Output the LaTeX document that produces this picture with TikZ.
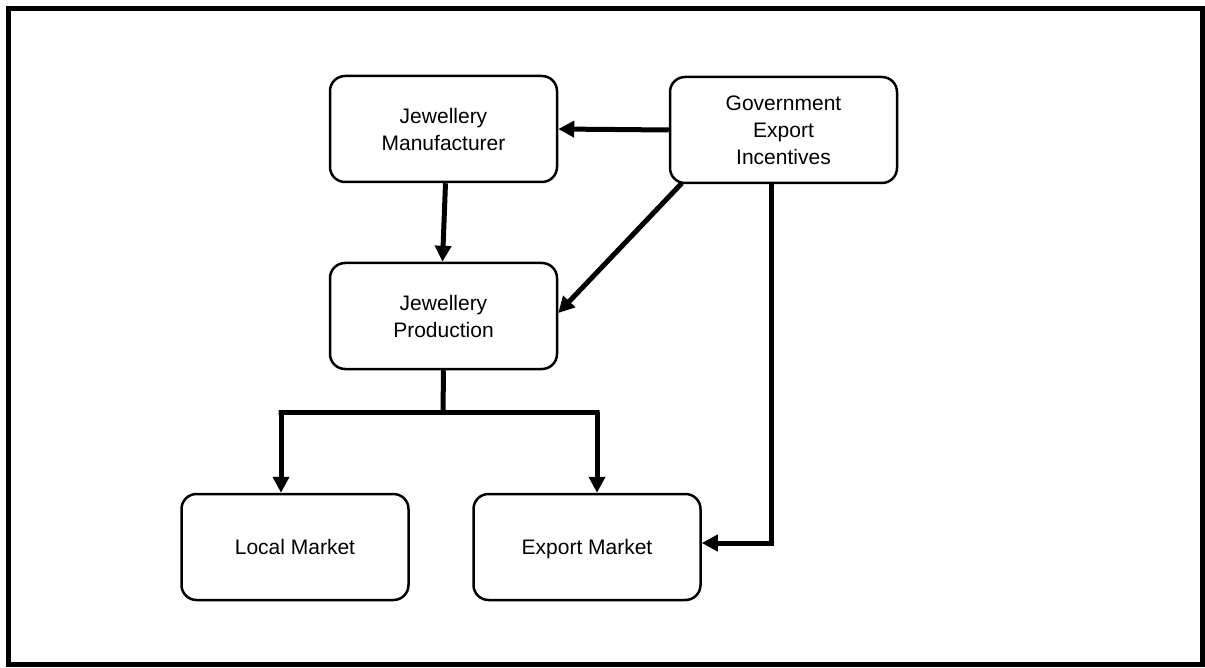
\documentclass[tikz,border=0pt]{standalone}
\usepackage{fontspec}
\setmainfont{Liberation Sans}
\usetikzlibrary{arrows.meta,calc}

\tikzset{
  block/.style={draw, line width=2.5pt, rounded corners=15pt,
    minimum width=227pt, minimum height=106pt, align=center,
    inner sep=0pt, font=\fontsize{21}{27}\selectfont},
  market/.style={block, text height=16pt, text depth=2pt},
  flow/.style={line width=5pt, -{Triangle[length=16pt,width=16pt]}},
  link/.style={line width=5pt}
}

\begin{document}
\begin{tikzpicture}[x=1pt,y=-1pt]
  \useasboundingbox (0,0) rectangle (1205,668);
  % outer frame
  \draw[line width=5pt] (8.5,8.5) rectangle (1202.5,664.5);

  % blocks
  \node[block] (man)  at (443.5,129) {Jewellery\\Manufacturer};
  \node[block] (gov)  at (783.5,130) {Government\\Export\\Incentives};
  \node[block] (prod) at (443.5,316) {Jewellery\\Production};
  \node[market] (loc) at (295,547)   {Local Market};
  \node[market] (exp) at (587,547)   {Export Market};

  % junction points
  \coordinate (split) at (443,412);
  \coordinate (lj) at (281,412);
  \coordinate (rj) at (597,412);
  \coordinate (gx) at (771,183);

  % connectors
  \draw[flow] (gov.west) -- (man.east);
  \draw[flow] ($(man.south)+(2,0)$) -- ($(prod.north)+(-1,0)$);
  \draw[flow] ($(gov.south west)+(13,-1)$) -- ($(prod.east)+(0,-3)$);
  \draw[link] (prod.south) -- (split);
  \draw[flow] (split) -- ([xshift=-2.5pt]lj) -- (lj) -- (lj |- loc.north);
  \draw[flow] (split) -- ([xshift=2.5pt]rj) -- (rj) -- (rj |- exp.north);
  \draw[flow] (gov.south -| gx) -- (gx |- 0,543) -- (exp.east |- 0,543);
\end{tikzpicture}
\end{document}
